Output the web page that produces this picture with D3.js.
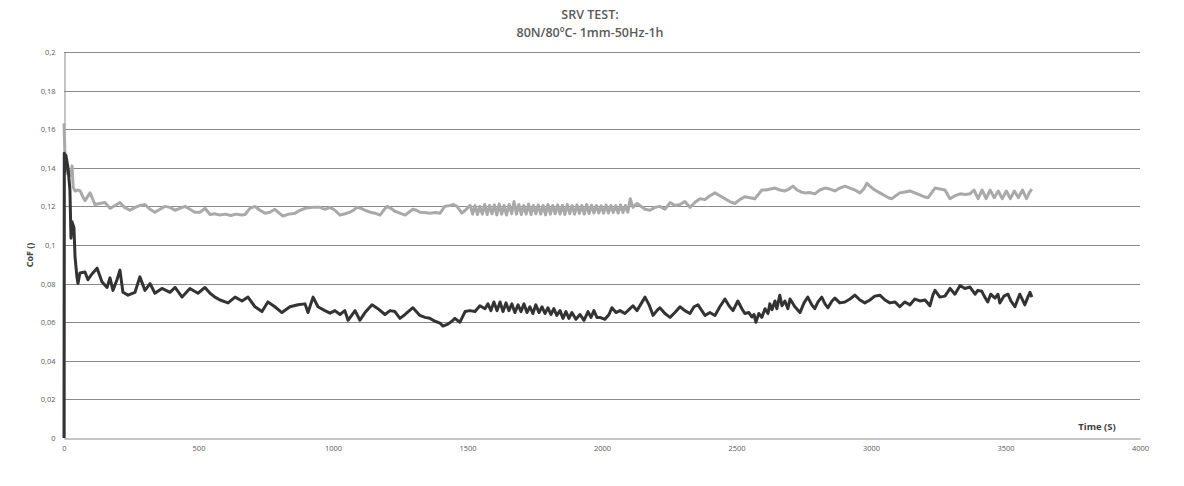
<!DOCTYPE html>
<html><head><meta charset="utf-8">
<script src="https://cdn.jsdelivr.net/npm/d3@7"></script>
<style>body{margin:0;background:#fff}svg{display:block}</style>
</head><body><svg id="c" width="1184" height="486"></svg>
<script>
const titleLines = ["SRV TEST:", "80N/80ºC- 1mm-50Hz-1h"];
const xLabel = "Time (S)";
const yLabel = "CoF ()";
const yTicks = [0, 0.02, 0.04, 0.06, 0.08, 0.1, 0.12, 0.14, 0.16, 0.18, 0.2];
const yTickLabels = ["0", "0,02", "0,04", "0,06", "0,08", "0,1", "0,12", "0,14", "0,16", "0,18", "0,2"];
const xTicks = [0, 500, 1000, 1500, 2000, 2500, 3000, 3500, 4000];

// dark series: [time (s), CoF]
const darkSeries = [
[0,0],[1,0.1475],[3,0.138],[7,0.1465],[15,0.140],[22,0.1285],[26,0.1035],[30,0.112],[37,0.109],[41,0.094],
[48,0.0835],[52,0.080],[59,0.0855],[78,0.086],[89,0.082],[104,0.085],[123,0.088],[141,0.081],[160,0.078],[171,0.083],
[182,0.0765],[197,0.082],[208,0.087],[219,0.0755],[238,0.074],[264,0.0755],[282,0.0835],[301,0.0765],[320,0.080],[338,0.075],
[364,0.0775],[394,0.0755],[413,0.078],[439,0.073],[468,0.0775],[498,0.075],[524,0.078],[543,0.075],[561,0.073],[580,0.0715],
[610,0.070],[636,0.073],[662,0.071],[684,0.073],[710,0.068],[736,0.0655],[758,0.0705],[784,0.068],[810,0.065],[840,0.068],
[870,0.069],[896,0.0695],[907,0.065],[926,0.073],[944,0.068],[970,0.066],[989,0.0647],[1007,0.066],[1026,0.064],[1044,0.066],
[1056,0.061],[1082,0.066],[1100,0.061],[1119,0.065],[1145,0.069],[1167,0.067],[1193,0.064],[1212,0.066],[1230,0.0655],[1249,0.062],
[1268,0.064],[1297,0.0675],[1323,0.0635],[1342,0.0625],[1360,0.062],[1379,0.0605],[1398,0.0595],[1409,0.058],[1427,0.059],[1442,0.0605],
[1453,0.062],[1472,0.060],[1491,0.0655],[1509,0.066],[1528,0.0655],[1546,0.0685],[1565,0.067],[1576,0.0695],[1587,0.066],[1598,0.0705],
[1610,0.066],[1621,0.0705],[1632,0.0655],[1643,0.070],[1654,0.066],[1665,0.0695],[1676,0.065],[1688,0.069],[1699,0.0655],[1710,0.0695],
[1721,0.065],[1732,0.068],[1743,0.0645],[1754,0.069],[1766,0.065],[1777,0.068],[1788,0.0645],[1799,0.0675],[1810,0.064],[1821,0.067],
[1832,0.0635],[1844,0.066],[1855,0.062],[1866,0.0655],[1877,0.062],[1888,0.065],[1903,0.0615],[1918,0.064],[1933,0.061],[1948,0.0655],
[1959,0.0625],[1970,0.066],[1981,0.0625],[1992,0.0625],[2011,0.0615],[2026,0.064],[2037,0.0675],[2052,0.065],[2067,0.066],[2085,0.0645],
[2104,0.067],[2115,0.0685],[2130,0.066],[2145,0.0695],[2160,0.073],[2175,0.069],[2190,0.0635],[2204,0.066],[2215,0.0675],[2234,0.0645],
[2253,0.0625],[2271,0.065],[2290,0.068],[2308,0.066],[2327,0.0645],[2342,0.068],[2357,0.069],[2371,0.066],[2383,0.0635],[2401,0.065],
[2420,0.0635],[2438,0.068],[2457,0.072],[2472,0.0685],[2487,0.066],[2505,0.071],[2520,0.067],[2531,0.0645],[2546,0.065],[2557,0.0627],
[2565,0.064],[2572,0.060],[2583,0.0645],[2594,0.0625],[2606,0.067],[2617,0.0645],[2624,0.0695],[2632,0.0665],[2643,0.071],[2650,0.067],
[2661,0.074],[2669,0.0685],[2680,0.071],[2691,0.067],[2699,0.072],[2717,0.068],[2736,0.065],[2751,0.070],[2765,0.073],[2780,0.069],
[2791,0.067],[2803,0.0705],[2817,0.073],[2829,0.0695],[2840,0.0675],[2855,0.071],[2866,0.0725],[2884,0.070],[2903,0.0705],[2922,0.072],
[2940,0.074],[2959,0.0715],[2977,0.070],[2996,0.0715],[3014,0.0735],[3033,0.074],[3052,0.0715],[3070,0.070],[3089,0.0705],[3107,0.068],
[3126,0.0705],[3145,0.069],[3163,0.072],[3182,0.071],[3201,0.0715],[3219,0.0685],[3230,0.074],[3238,0.0765],[3256,0.073],[3275,0.0735],
[3294,0.0775],[3312,0.0745],[3331,0.079],[3349,0.0775],[3368,0.0782],[3387,0.0745],[3397,0.0765],[3412,0.076],[3423,0.073],[3434,0.0705],
[3445,0.0745],[3461,0.0725],[3472,0.0745],[3479,0.070],[3494,0.0735],[3509,0.0745],[3520,0.071],[3535,0.068],[3546,0.072],[3553,0.0745],
[3565,0.071],[3572,0.069],[3583,0.073],[3591,0.0755],[3598,0.073]
];

// light series: [time (s), CoF]
const lightSeries = [
[0,0.163],[4,0.145],[8,0.137],[20,0.138],[26,0.136],[30,0.141],[34,0.130],[41,0.128],[52,0.1285],[60,0.128],
[70,0.125],[78,0.123],[97,0.127],[115,0.121],[133,0.1215],[152,0.122],[171,0.119],[190,0.1205],[208,0.122],[225,0.1195],
[245,0.118],[265,0.1195],[283,0.1205],[301,0.121],[320,0.1185],[338,0.117],[357,0.1185],[375,0.120],[394,0.1195],[413,0.118],
[431,0.119],[450,0.120],[468,0.1185],[487,0.117],[506,0.117],[524,0.119],[543,0.1158],[560,0.1162],[580,0.1155],[600,0.116],
[620,0.1153],[640,0.116],[660,0.1155],[673,0.1158],[691,0.119],[710,0.120],[728,0.118],[747,0.1165],[765,0.117],[784,0.1185],
[800,0.1165],[814,0.115],[836,0.116],[859,0.1165],[878,0.118],[896,0.119],[925,0.1195],[952,0.1195],[970,0.1185],[989,0.1195],
[1007,0.118],[1026,0.1155],[1045,0.1162],[1063,0.117],[1076,0.118],[1089,0.1195],[1104,0.119],[1119,0.118],[1138,0.117],[1156,0.1165],
[1175,0.1155],[1188,0.118],[1201,0.120],[1215,0.119],[1230,0.1175],[1249,0.1165],[1268,0.1155],[1282,0.117],[1297,0.1185],[1310,0.118],
[1323,0.117],[1340,0.1168],[1360,0.1165],[1380,0.1168],[1398,0.1165],[1416,0.120],[1435,0.1205],[1448,0.121],[1461,0.120],[1479,0.1165],
[1492,0.118],[1502,0.1195],[1510,0.1205],[1519,0.1160],[1528,0.1205],[1537,0.1158],[1546,0.1200],[1555,0.1160],[1564,0.1210],[1573,0.1158],
[1582,0.1205],[1591,0.1162],[1600,0.1208],[1609,0.1156],[1618,0.1212],[1627,0.1160],[1636,0.1205],[1645,0.1155],[1655,0.1210],[1664,0.1162],
[1673,0.1225],[1682,0.1160],[1691,0.1210],[1700,0.1158],[1709,0.1205],[1718,0.1160],[1727,0.1212],[1736,0.1158],[1745,0.1205],[1754,0.1162],
[1763,0.1208],[1772,0.1160],[1781,0.1205],[1790,0.1156],[1799,0.1210],[1808,0.1160],[1817,0.1205],[1826,0.1162],[1835,0.1208],[1844,0.1160],
[1853,0.1206],[1862,0.1158],[1871,0.1210],[1880,0.1162],[1889,0.1205],[1898,0.1160],[1907,0.1208],[1916,0.1164],[1925,0.1205],[1934,0.1160],
[1943,0.1210],[1952,0.1163],[1961,0.1206],[1970,0.1165],[1979,0.1205],[1988,0.1166],[1997,0.1203],[2006,0.1165],[2015,0.1207],[2024,0.1166],
[2033,0.1205],[2042,0.1168],[2051,0.1204],[2060,0.1165],[2069,0.1208],[2078,0.1168],[2087,0.1205],[2096,0.1170],[2105,0.1240],[2115,0.1195],
[2130,0.1215],[2141,0.1205],[2160,0.1185],[2178,0.118],[2197,0.1195],[2215,0.120],[2234,0.1185],[2253,0.122],[2271,0.1205],[2290,0.121],
[2308,0.1225],[2327,0.1195],[2345,0.122],[2364,0.124],[2383,0.1235],[2401,0.1255],[2420,0.127],[2438,0.1255],[2457,0.124],[2475,0.1225],
[2494,0.1215],[2512,0.1235],[2531,0.125],[2550,0.1245],[2568,0.124],[2580,0.126],[2594,0.1285],[2610,0.1285],[2626,0.129],[2643,0.1295],
[2661,0.1285],[2680,0.128],[2695,0.129],[2710,0.1305],[2725,0.1285],[2740,0.1275],[2754,0.127],[2772,0.1272],[2791,0.1265],[2810,0.1285],
[2829,0.1295],[2847,0.129],[2866,0.128],[2884,0.1295],[2903,0.1305],[2922,0.1295],[2940,0.1285],[2959,0.127],[2973,0.129],[2985,0.132],
[3000,0.130],[3014,0.1285],[3033,0.127],[3052,0.1255],[3065,0.1245],[3078,0.124],[3092,0.1255],[3107,0.127],[3126,0.1275],[3145,0.128],
[3163,0.127],[3182,0.126],[3197,0.125],[3212,0.1245],[3225,0.127],[3238,0.1295],[3256,0.129],[3275,0.1285],[3285,0.126],[3294,0.124],
[3312,0.1255],[3331,0.1265],[3350,0.1262],[3368,0.1265],[3383,0.1285],[3398,0.124],[3413,0.1285],[3428,0.124],[3443,0.1285],[3458,0.1245],
[3473,0.128],[3488,0.124],[3503,0.128],[3518,0.124],[3533,0.128],[3548,0.1245],[3563,0.1285],[3578,0.124],[3590,0.1275],[3598,0.129]
];

const W = 1184, H = 486;
const m = {left: 64, right: 1140, top: 52, bottom: 438};
const svg = d3.select("#c");
const x = d3.scaleLinear().domain([0, 4000]).range([m.left, m.right]);
const y = d3.scaleLinear().domain([0, 0.2]).range([m.bottom, m.top]);
const fontFam = "'Open Sans', 'DejaVu Sans', sans-serif";

// gridlines
svg.append("g").selectAll("line").data(yTicks.slice(1)).join("line")
  .attr("x1", m.left).attr("x2", m.right)
  .attr("y1", d => Math.round(y(d)) + 0.5).attr("y2", d => Math.round(y(d)) + 0.5)
  .attr("stroke", "#8a8a8a").attr("stroke-width", 1);

// axes
const yAxis = d3.axisLeft(y).tickValues(yTicks).tickSize(0).tickPadding(9)
  .tickFormat((d, i) => yTickLabels[i]);
const gy = svg.append("g").attr("transform", `translate(${m.left + 0.5},0)`).call(yAxis);
gy.select(".domain").attr("stroke", "#8a8a8a");
gy.selectAll("text").attr("font-family", fontFam).attr("font-size", 7.5).attr("fill", "#595959");

const xAxis = d3.axisBottom(x).tickValues(xTicks).tickSize(0).tickPadding(7).tickFormat(d3.format("d"));
const gx = svg.append("g").attr("transform", `translate(0,${m.bottom + 0.5})`).call(xAxis);
gx.select(".domain").attr("stroke", "#8a8a8a");
gx.selectAll("text").attr("font-family", fontFam).attr("font-size", 7.5).attr("fill", "#595959");

// lines
const line = d3.line().x(d => x(d[0])).y(d => y(d[1]));
svg.append("path").datum(lightSeries).attr("d", line)
  .attr("fill", "none").attr("stroke", "#a9a9a9").attr("stroke-width", 3).attr("stroke-linejoin", "round");
svg.append("path").datum(darkSeries).attr("d", line)
  .attr("fill", "none").attr("stroke", "#333333").attr("stroke-width", 3).attr("stroke-linejoin", "round");

// titles
svg.append("text").attr("x", 590).attr("y", 19).attr("text-anchor", "middle")
  .attr("font-family", fontFam).attr("font-weight", 600).attr("font-size", 12.5).attr("fill", "#595959").text(titleLines[0]);
svg.append("text").attr("x", 590).attr("y", 37).attr("text-anchor", "middle")
  .attr("font-family", fontFam).attr("font-weight", 600).attr("font-size", 12.5).attr("fill", "#595959").text(titleLines[1]);

svg.append("text").attr("transform", "translate(33,255) rotate(-90)").attr("text-anchor", "middle")
  .attr("font-family", fontFam).attr("font-weight", 700).attr("font-size", 9).attr("fill", "#404040").text(yLabel);
svg.append("text").attr("x", 1097).attr("y", 430).attr("text-anchor", "middle")
  .attr("font-family", fontFam).attr("font-weight", 700).attr("font-size", 9.5).attr("fill", "#404040").text(xLabel);
</script>
</body></html>
